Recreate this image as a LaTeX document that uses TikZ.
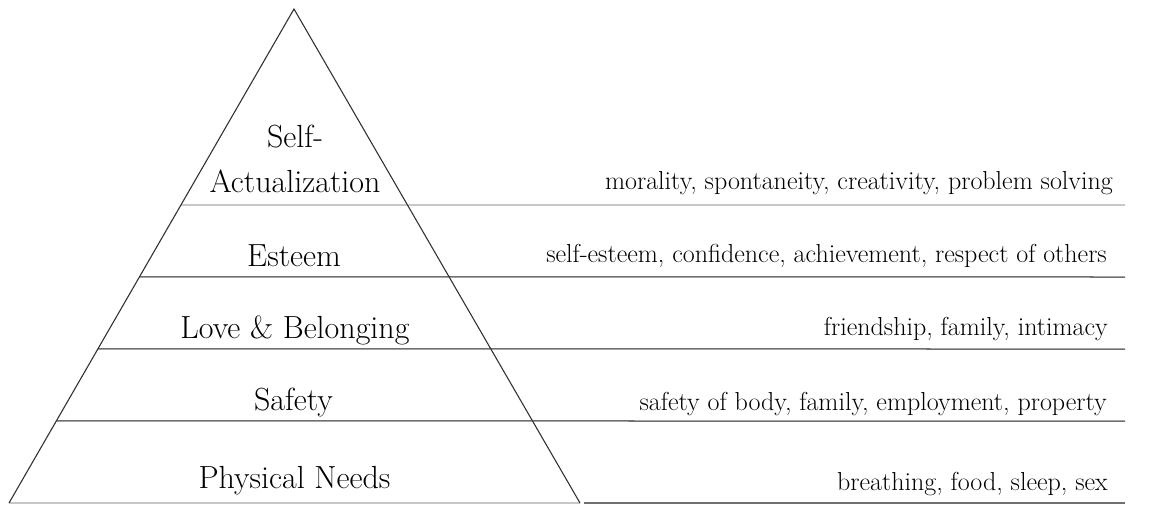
\documentclass[tikz,border=0pt]{standalone}
\usepackage{fontspec}
\usetikzlibrary{calc}
\begin{document}
\begin{tikzpicture}[x=1pt,y=-1pt,
  edge/.style={line width=1.1pt,draw=black!80},
  tier/.style={line width=1.5pt,draw=black!56},
  tierlight/.style={line width=1.8pt,draw=black!22},
  level/.style={font=\fontsize{32}{45}\selectfont,inner sep=0pt,align=center,anchor=base},
  need/.style={font=\fontsize{26}{30}\selectfont,inner sep=0pt,anchor=base east}]
\useasboundingbox (0,0) rectangle (1154,505);
% pyramid corners
\coordinate (apex) at (294,9);
\coordinate (bl) at (9,503);
\coordinate (br) at (580,503);
% tier boundaries: left edge of pyramid to the right margin
\foreach \yy/\nm in {205/a,277/b,349/c,421/d}{
  \coordinate (L\nm) at ($(apex)!{(\yy-9)/494}!(bl)$);
  \coordinate (R\nm) at (1125,\yy);
}
\draw[tierlight] (La) -- (Ra);
\draw[tier] (Lb) -- (Rb);
\draw[tier] (Lc) -- (Rc);
\draw[tier] (Ld) -- (Rd);
\coordinate (Be) at (584,503);
\coordinate (Rbase) at (1125,503);
\draw[tierlight] (bl) -- (br);
\draw[tier] (Be) -- (Rbase);
\draw[edge] (bl) -- (apex) -- (br);
% level names
\node[level] (l5) at (295,193) {Self-\\Actualization};
\node[level] (l4) at (294,266) {Esteem};
\node[level] (l3) at (295,338) {Love \& Belonging};
\node[level] (l2) at (293.5,410) {Safety};
\node[level] (l1) at (294.5,488) {Physical Needs};
% needs on each level
\node[need] (n5) at (1113,190) {morality, spontaneity, creativity, problem solving};
\node[need] (n4) at (1107,262) {self-esteem, confidence, achievement, respect of others};
\node[need] (n3) at (1108,335) {friendship, family, intimacy};
\node[need] (n2) at (1107,410) {safety of body, family, employment, property};
\node[need] (n1) at (1108,490) {breathing, food, sleep, sex};
\end{tikzpicture}
\end{document}
